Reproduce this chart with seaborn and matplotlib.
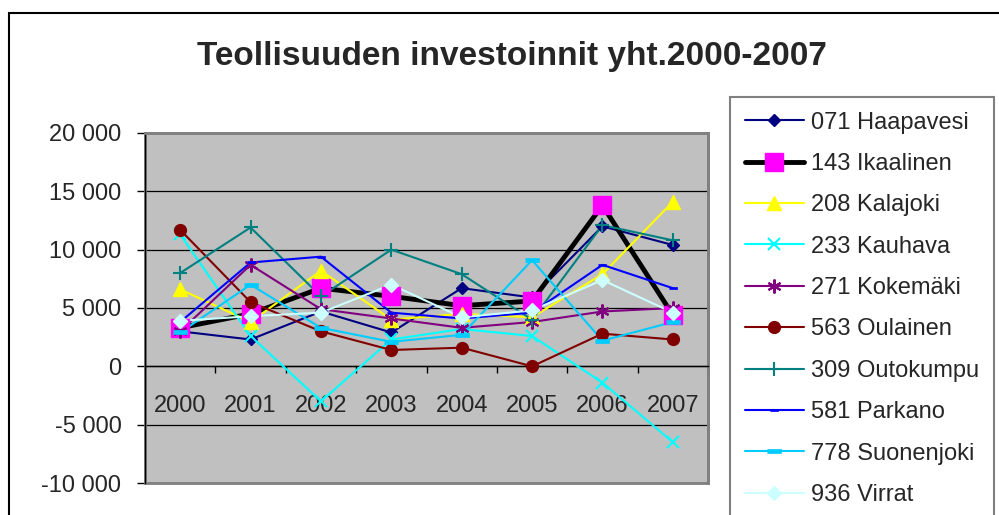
import matplotlib

matplotlib.use('Agg')

import pandas as pd
import seaborn as sns
import matplotlib.pyplot as plt
from matplotlib.lines import Line2D
from matplotlib.patches import Rectangle
from matplotlib.ticker import FixedLocator, FuncFormatter, MultipleLocator

# --- data ---
years = [2000, 2001, 2002, 2003, 2004, 2005, 2006, 2007]

haapavesi = [3000, 2300, 4700, 2900, 6700, 5900, 12000, 10400]
ikaalinen = [3300, 4500, 6700, 6000, 5200, 5600, 13800, 4400]
kalajoki = [6600, 3800, 8200, 4000, 4500, 4200, 7900, 14100]
kauhava = [11300, 2600, -3000, 2300, 3200, 2600, -1400, -6500]
kokemaki = [3000, 8700, 4900, 4100, 3300, 3800, 4700, 5000]
oulainen = [11700, 5500, 3000, 1400, 1600, 0, 2800, 2300]
outokumpu = [8000, 11900, 6000, 10000, 7900, 4000, 12100, 10800]
parkano = [3800, 8900, 9400, 4600, 4100, 4600, 8700, 6700]
suonenjoki = [2900, 7000, 3300, 2100, 2700, 9100, 2200, 3800]
virrat = [3900, 4300, 4600, 7000, 4200, 4800, 7400, 4600]

names = ['071 Haapavesi', '143 Ikaalinen', '208 Kalajoki', '233 Kauhava', '271 Kokemäki',
         '563 Oulainen', '309 Outokumpu', '581 Parkano', '778 Suonenjoki', '936 Virrat']
values = [haapavesi, ikaalinen, kalajoki, kauhava, kokemaki,
          oulainen, outokumpu, parkano, suonenjoki, virrat]

# --- styles (Excel 2003 palette) ---
small_dash = [(-1, -0.35), (1, -0.35), (1, 0.35), (-1, 0.35)]
wide_dash = [(-1, -0.33), (1, -0.33), (1, 0.33), (-1, 0.33)]
styles = [
    dict(color='#000080', lw=1.5, marker='D', ms=6.5, mfc='#000080', mec='#000080', mew=1),
    dict(color='black', lw=3.5, marker='s', ms=13, mfc='#FF00FF', mec='#FF00FF', mew=1),
    dict(color='#FFFF00', lw=1.5, marker='^', ms=10, mfc='#FFFF00', mec='#FFFF00', mew=1),
    dict(color='#00FFFF', lw=1.5, marker='x', ms=8.5, mfc='#00FFFF', mec='#00FFFF', mew=1.5),
    dict(color='#800080', lw=1.5, marker=(6, 2, 0), ms=10, mfc='#800080', mec='#800080', mew=1.5),
    dict(color='#800000', lw=1.5, marker='o', ms=8.5, mfc='#800000', mec='#800000', mew=1),
    dict(color='#008080', lw=1.5, marker='+', ms=10, mfc='#008080', mec='#008080', mew=1.5),
    dict(color='#0000FF', lw=1.5, marker=small_dash, ms=6, mfc='#0000FF', mec='#0000FF', mew=0.5),
    dict(color='#00CCFF', lw=1.5, marker=wide_dash, ms=9.5, mfc='#00CCFF', mec='#00CCFF', mew=0.5),
    dict(color='#CCFFFF', lw=1.5, marker='D', ms=7.5, mfc='#CCFFFF', mec='#CCFFFF', mew=1),
]

rows = []
for name, vals in zip(names, values):
    for year, v in zip(years, vals):
        rows.append({'Vuosi': year, 'Kunta': name, 'Investoinnit': v})
df = pd.DataFrame(rows)

sns.set_style('white')
plt.rcParams['font.family'] = ['Liberation Sans', 'DejaVu Sans']

fig = plt.figure(figsize=(9.99, 5.15), dpi=100)
ax = fig.add_axes([145 / 999, 1 - 483 / 515, 563 / 999, 350 / 515])
ax.set_facecolor('#C0C0C0')

# lines first, then markers on top (like Excel)
for i, (name, st) in enumerate(zip(names, styles)):
    sub = df[df['Kunta'] == name]
    sns.lineplot(data=sub, x='Vuosi', y='Investoinnit', color=st['color'], lw=st['lw'],
                 errorbar=None, ax=ax, zorder=3)
for i, (name, st) in enumerate(zip(names, styles)):
    sub = df[df['Kunta'] == name]
    sns.lineplot(data=sub, x='Vuosi', y='Investoinnit', linestyle='none', marker=st['marker'],
                 markersize=st['ms'], markerfacecolor=st['mfc'], markeredgecolor=st['mec'],
                 markeredgewidth=st['mew'], errorbar=None, ax=ax, zorder=4 + i)

ax.set_xlim(1999.5, 2007.5)
ax.set_ylim(-10000, 20000)
ax.set_xlabel('')
ax.set_ylabel('')

ax.yaxis.set_major_locator(MultipleLocator(5000))
ax.yaxis.set_major_formatter(FuncFormatter(lambda v, p: f'{int(v):,}'.replace(',', ' ')))
ax.yaxis.grid(True, color='black', lw=0.9)
ax.xaxis.grid(False)
ax.set_axisbelow(True)
ax.tick_params(axis='y', direction='out', length=6, width=1, color='black',
               labelsize=17, pad=11, left=True)

# category axis crossing at zero: ticks between years, labels at years
ax.spines['bottom'].set_position(('data', 0))
ax.spines['bottom'].set_color('black')
ax.spines['bottom'].set_linewidth(1)
ax.spines['left'].set_color('black')
ax.spines['left'].set_linewidth(1)
ax.spines['top'].set_color('#808080')
ax.spines['top'].set_linewidth(2)
ax.spines['right'].set_color('#808080')
ax.spines['right'].set_linewidth(2)
ax.xaxis.set_major_locator(FixedLocator([y - 0.5 for y in years] + [years[-1] + 0.5]))
ax.xaxis.set_major_formatter(FuncFormatter(lambda v, p: ''))
ax.xaxis.set_minor_locator(FixedLocator(years))
ax.xaxis.set_minor_formatter(FuncFormatter(lambda v, p: str(int(round(v)))))
ax.tick_params(axis='x', which='major', direction='out', length=5, width=1, color='black', bottom=True)
ax.tick_params(axis='x', which='minor', length=0, labelsize=17, pad=21, bottom=True)

ax.add_patch(Rectangle((0, 0), 1, 1, transform=ax.transAxes, fill=False,
                       ec='#808080', lw=2, clip_on=False, zorder=1))

# outer chart frame (cropped at right/bottom)
fig.add_artist(Rectangle((9 / 999, -0.1), 1.2, 1 - 13 / 515 + 0.1, transform=fig.transFigure,
                         fill=False, ec='black', lw=1.5))

fig.text(0.512, 1 - 56 / 515, 'Teollisuuden investoinnit yht.2000-2007',
         ha='center', va='center', fontsize=24, fontweight='bold')

handles = [Line2D([], [], color=st['color'], lw=st['lw'], marker=st['marker'], markersize=st['ms'],
                  markerfacecolor=st['mfc'], markeredgecolor=st['mec'], markeredgewidth=st['mew'])
           for st in styles]
leg = fig.legend(handles, names, loc='upper left', bbox_to_anchor=(730 / 999, 1 - 97 / 515),
                 bbox_transform=fig.transFigure, frameon=True, fancybox=False, shadow=False,
                 edgecolor='#606060', fontsize=17, handlelength=2.5, handletextpad=0.3,
                 borderpad=0.62, labelspacing=0.82, borderaxespad=0)
leg.get_frame().set_linewidth(1.5)

fig.savefig('out.png', dpi=100)
